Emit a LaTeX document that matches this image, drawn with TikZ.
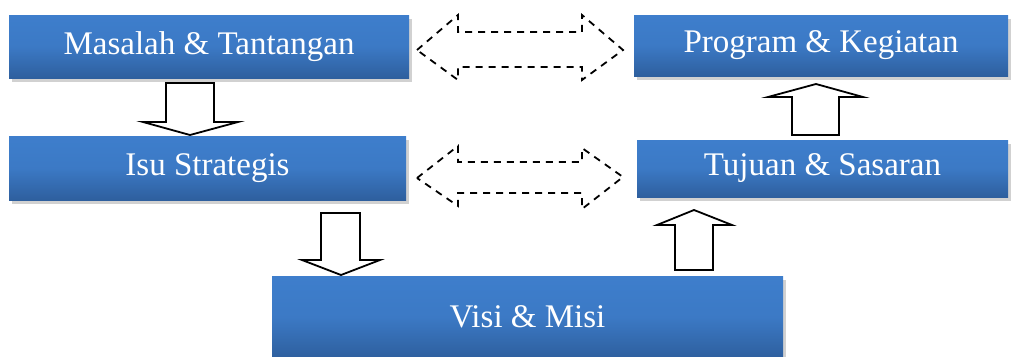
\documentclass[tikz,border=0pt]{standalone}
\usepackage{fontspec}
\setmainfont{Liberation Serif}
\usetikzlibrary{shadows}
\definecolor{boxtop}{RGB}{62,126,204}
\definecolor{boxbot}{RGB}{46,95,158}
\tikzset{
  bluebox/.style={rectangle, draw=none, top color=boxtop, bottom color=boxbot,
    middle color=boxtop!85!boxbot, text=white, inner sep=0pt,
    font=\fontsize{33}{38}\selectfont,
    drop shadow={shadow xshift=2.5pt, shadow yshift=-3.5pt, opacity=0.3, fill=black!60}},
  blockarrow/.style={draw=black, line width=1.8pt, fill=white, line join=miter},
  dasharrow/.style={draw=black, line width=1.8pt, dash pattern=on 7pt off 6pt}
}
\begin{document}
\begin{tikzpicture}[x=1pt,y=-1pt]
\useasboundingbox (0,0) rectangle (1011,356);
\node[bluebox, minimum width=400pt, minimum height=63pt] (m) at (209,46.5) {Masalah \& Tantangan};
\node[bluebox, minimum width=374pt, minimum height=61pt] (p) at (821,45.5) {Program \& Kegiatan};
\node[bluebox, minimum width=397pt, minimum height=64pt] (i) at (207.5,168) {Isu Strategis};
\node[bluebox, minimum width=371pt, minimum height=57pt] (t) at (822.5,168.5) {Tujuan \& Sasaran};
\node[bluebox, minimum width=511pt, minimum height=82pt] (v) at (527.5,317) {Visi \& Misi};
% block arrows
\draw[blockarrow] (166,83)--(214,83)--(214,122)--(238,122)--(190,135)--(143,122)--(166,122)--cycle;
\draw[blockarrow] (321,213)--(360,213)--(360,260)--(380,260)--(341,275)--(302,260)--(321,260)--cycle;
\draw[blockarrow] (792,135)--(839,135)--(839,97)--(863,97)--(816,84)--(768,97)--(792,97)--cycle;
\draw[blockarrow] (675,270)--(713,270)--(713,225)--(732,225)--(694,210)--(657,225)--(675,225)--cycle;
% dashed double arrows
\draw[dasharrow] (417,50)--(458,15)--(458,32)--(582,32)--(582,15)--(623,50)--(582,80)--(582,67)--(458,67)--(458,80)--cycle;
\draw[dasharrow] (417,178)--(458,146)--(458,162)--(582,162)--(582,148)--(623,177)--(582,209)--(582,193)--(458,193)--(458,206)--cycle;
\end{tikzpicture}
\end{document}
